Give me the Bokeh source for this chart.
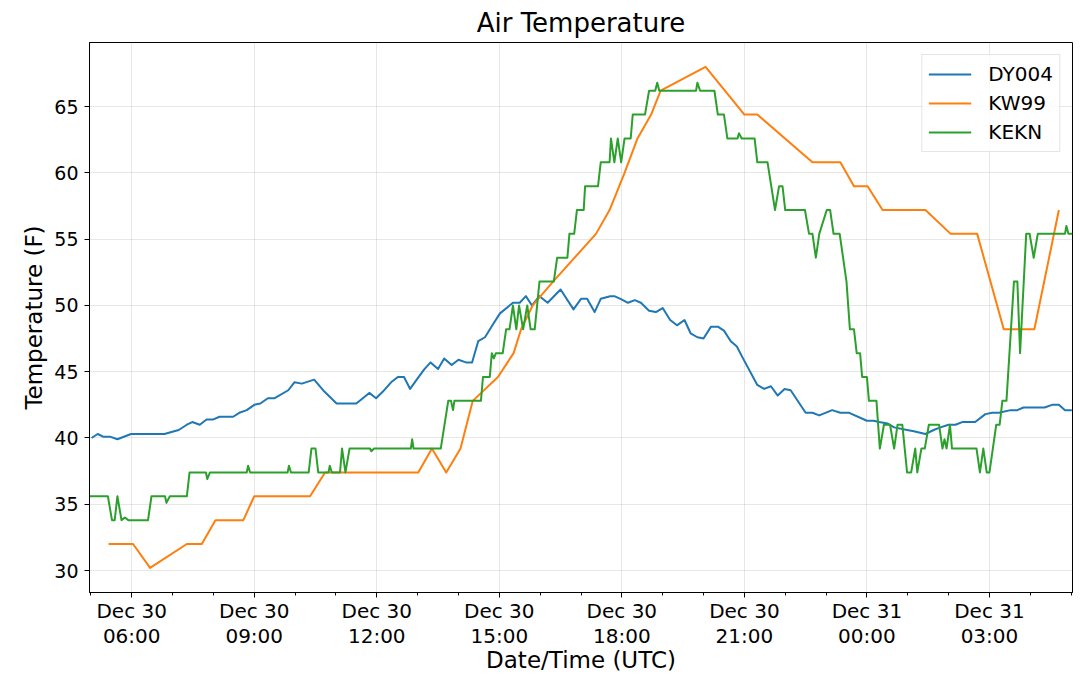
import pandas as pd
from bokeh.embed import file_html
from bokeh.models import DatetimeTickFormatter, FixedTicker, Legend, LegendItem, Range1d
from bokeh.plotting import figure
from bokeh.resources import INLINE

# minutes after Dec 30 06:00 UTC, temperature in F
dy004_min = [-59, -50, -42, -32, -21, -1, 48, 69, 81, 89, 100, 110, 120, 129, 149, 158, 169, 180,
             189, 200, 210, 230, 239, 250, 268, 283, 301, 330, 349, 359, 369, 381, 391, 400, 409,
             420, 430, 439, 450, 459, 470, 480, 491, 500, 509, 519, 531, 541, 560, 570, 579, 588,
             599, 611, 630, 649, 660, 669, 680, 689, 703, 709, 718, 729, 739, 748, 760, 770, 780,
             791, 801, 812, 821, 831, 840, 851, 861, 870, 880, 889, 897, 919, 929, 939, 949, 959,
             968, 990, 1000, 1010, 1029, 1041, 1054, 1080, 1090, 1098, 1110, 1120, 1139, 1149,
             1166, 1178, 1188, 1200, 1210, 1220, 1239, 1254, 1264, 1274, 1291, 1301, 1310, 1341,
             1352, 1362, 1371, 1381]
dy004_temp = [40.0, 40.3, 40.1, 40.1, 39.9, 40.3, 40.3, 40.6, 41.0, 41.2, 41.0, 41.4, 41.4, 41.6,
              41.6, 41.9, 42.1, 42.5, 42.6, 43.0, 43.0, 43.6, 44.2, 44.1, 44.4, 43.5, 42.6, 42.6,
              43.4, 43.0, 43.5, 44.2, 44.6, 44.6, 43.7, 44.5, 45.2, 45.7, 45.2, 46.0, 45.5, 45.9,
              45.7, 45.7, 47.3, 47.6, 48.6, 49.4, 50.2, 50.2, 50.7, 50.0, 50.7, 50.2, 51.2, 49.7,
              50.5, 50.5, 49.5, 50.5, 50.7, 50.7, 50.5, 50.2, 50.4, 50.2, 49.6, 49.5, 49.8, 48.9,
              48.5, 48.9, 47.9, 47.6, 47.5, 48.4, 48.4, 48.1, 47.3, 46.9, 46.1, 44.0, 43.7, 43.9,
              43.2, 43.7, 43.6, 41.9, 41.9, 41.7, 42.1, 41.9, 41.9, 41.3, 41.3, 41.2, 41.1, 40.8,
              40.6, 40.5, 40.3, 40.6, 40.8, 41.0, 41.0, 41.2, 41.2, 41.8, 41.9, 41.9, 42.1, 42.1,
              42.3, 42.3, 42.5, 42.5, 42.1, 42.1]

kw99_min = [-34, 2, 27, 81, 103, 123, 164, 180, 262, 284, 421, 441, 462, 483, 501, 538, 561, 572,
            589, 619, 682, 702, 724, 743, 763, 777, 843, 900, 919, 1000, 1041, 1061, 1081, 1103,
            1166, 1203, 1242, 1281, 1326, 1362]
kw99_temp = [32.0, 32.0, 30.2, 32.0, 32.0, 33.8, 33.8, 35.6, 35.6, 37.4, 37.4, 39.2, 37.4, 39.2,
             42.8, 44.6, 46.4, 48.2, 50.0, 51.8, 55.4, 57.2, 60.0, 62.6, 64.4, 66.2, 68.0, 64.4,
             64.4, 60.8, 60.8, 59.0, 59.0, 57.2, 57.2, 55.4, 55.4, 48.2, 48.2, 57.2]

kekn_min = [-62, -35, -29, -25, -21, -15, -10, -5, 24, 29, 49, 51, 56, 81, 85, 109, 111, 115, 169,
            171, 174, 229, 231, 234, 260, 264, 270, 274, 289, 291, 294, 306, 309, 314, 320, 350,
            352, 356, 410, 412, 414, 454, 465, 469, 472, 474, 513, 516, 526, 529, 532, 535, 545,
            550, 555, 560, 565, 569, 575, 581, 586, 592, 599, 620, 625, 640, 643, 650, 654, 664,
            666, 685, 689, 702, 704, 709, 714, 719, 724, 733, 736, 754, 760, 769, 772, 775, 829,
            831, 835, 856, 861, 870, 875, 890, 892, 896, 915, 919, 934, 945, 951, 956, 960, 989,
            995, 1000, 1005, 1010, 1021, 1026, 1031, 1040, 1050, 1055, 1061, 1065, 1070, 1073,
            1080, 1083, 1094, 1099, 1105, 1114, 1120, 1125, 1132, 1139, 1145, 1151, 1154, 1160,
            1165, 1171, 1186, 1191, 1194, 1197, 1202, 1205, 1241, 1246, 1251, 1256, 1260, 1270,
            1275, 1279, 1285, 1296, 1301, 1305, 1314, 1319, 1325, 1331, 1371, 1373, 1376, 1382]
kekn_temp = [35.6, 35.6, 33.8, 33.8, 35.6, 33.8, 34.0, 33.8, 33.8, 35.6, 35.6, 35.1, 35.6, 35.6,
             37.4, 37.4, 36.9, 37.4, 37.4, 37.9, 37.4, 37.4, 37.9, 37.4, 37.4, 39.2, 39.2, 37.4,
             37.4, 37.9, 37.4, 37.4, 39.2, 37.4, 39.2, 39.2, 39.0, 39.2, 39.2, 39.9, 39.2, 39.2,
             42.8, 42.8, 42.1, 42.8, 42.8, 44.6, 44.6, 46.4, 46.0, 46.4, 46.4, 48.2, 48.2, 50.0,
             48.2, 50.0, 48.2, 50.0, 48.2, 48.2, 51.8, 51.8, 53.6, 53.6, 55.4, 55.4, 57.2, 57.2,
             59.0, 59.0, 60.8, 60.8, 62.6, 60.8, 62.6, 60.8, 62.6, 62.6, 64.4, 64.4, 66.2, 66.2,
             66.8, 66.2, 66.2, 66.8, 66.2, 66.2, 64.4, 64.4, 62.6, 62.6, 63.0, 62.6, 62.6, 60.8,
             60.8, 57.2, 59.0, 59.0, 57.2, 57.2, 55.4, 55.4, 53.6, 55.4, 57.2, 57.2, 55.4, 55.4,
             51.8, 48.2, 48.2, 46.4, 46.4, 44.6, 44.6, 42.8, 42.8, 39.2, 41.0, 41.0, 39.2, 41.0,
             41.0, 37.4, 37.4, 39.2, 37.4, 39.2, 39.2, 41.0, 41.0, 39.2, 39.9, 39.2, 41.0, 39.2,
             39.2, 37.4, 39.2, 37.4, 37.4, 41.0, 41.0, 42.8, 42.8, 51.8, 51.8, 46.4, 55.4, 55.4,
             53.6, 55.4, 55.4, 56.0, 55.4, 55.4]

base = pd.Timestamp("2017-12-30 06:00")


def to_time(minutes):
    return base + pd.to_timedelta(minutes, unit="m")


FONT = "DejaVu Sans"

p = figure(frame_width=983, frame_height=550, x_axis_type="datetime",
           output_backend="svg", toolbar_location=None, tools="",
           min_border_left=89, min_border_right=4, min_border_top=35, min_border_bottom=80,
           x_range=Range1d(to_time(-62), to_time(1382)), y_range=Range1d(28.34, 69.84),
           title="Air Temperature")

p.title.align = "center"
p.title.text_font = FONT
p.title.text_font_size = "26px"
p.title.text_font_style = "normal"
p.title.text_color = "black"

r1 = p.line(to_time(dy004_min), dy004_temp, color="#1f77b4", line_width=2, line_join="round")
r2 = p.line(to_time(kw99_min), kw99_temp, color="#ff7f0e", line_width=2, line_join="round")
r3 = p.line(to_time(kekn_min), kekn_temp, color="#2ca02c", line_width=2, line_join="round")

# axes
major = [to_time(m).value // 10**6 for m in range(0, 1381, 180)]
minor = [to_time(m).value // 10**6 for m in range(-60, 1381, 60)]
p.xaxis.ticker = FixedTicker(ticks=major, minor_ticks=minor)
fmt = "%b %d\n%H:%M"
p.xaxis.formatter = DatetimeTickFormatter(hours=fmt, hourmin=fmt, days=fmt, minutes=fmt)
p.yaxis.ticker = FixedTicker(ticks=[30, 35, 40, 45, 50, 55, 60, 65])

p.xaxis.axis_label = "Date/Time (UTC)"
p.yaxis.axis_label = "Temperature (F)"
for ax in (p.xaxis, p.yaxis):
    ax.axis_label_text_font = FONT
    ax.axis_label_text_font_size = "23px"
    ax.axis_label_text_font_style = "normal"
    ax.axis_label_text_color = "black"
    ax.major_label_text_font = FONT
    ax.major_label_text_font_size = "19px"
    ax.major_label_text_color = "black"
    ax.axis_line_color = "black"
    ax.major_tick_line_color = "black"
    ax.minor_tick_line_color = "black"
    ax.major_tick_in = 0
    ax.major_tick_out = 5
    ax.minor_tick_in = 0
    ax.minor_tick_out = 3
p.xaxis.major_label_text_font_size = "20px"
p.xaxis.major_label_text_line_height = 1.05
p.yaxis.minor_tick_line_color = None
p.xaxis.major_label_standoff = 1
p.xaxis.axis_label_standoff = -4
p.yaxis.major_label_standoff = 6
p.yaxis.axis_label_standoff = 4

p.grid.grid_line_color = "#b0b0b0"
p.grid.grid_line_alpha = 0.3
p.outline_line_color = "black"
p.outline_line_alpha = 1

legend = Legend(items=[LegendItem(label="DY004", renderers=[r1]),
                       LegendItem(label="KW99", renderers=[r2]),
                       LegendItem(label="KEKN", renderers=[r3])],
                location="top_right")
legend.margin = 12
legend.padding = 6
legend.spacing = 3
legend.glyph_width = 43
legend.glyph_height = 26
legend.label_height = 26
legend.label_standoff = 17
legend.label_text_font = FONT
legend.label_text_font_size = "20px"
legend.label_text_color = "black"
legend.border_line_color = "#cccccc"
legend.background_fill_alpha = 0.8
p.add_layout(legend)

open("out.html", "w").write(file_html(p, INLINE))
